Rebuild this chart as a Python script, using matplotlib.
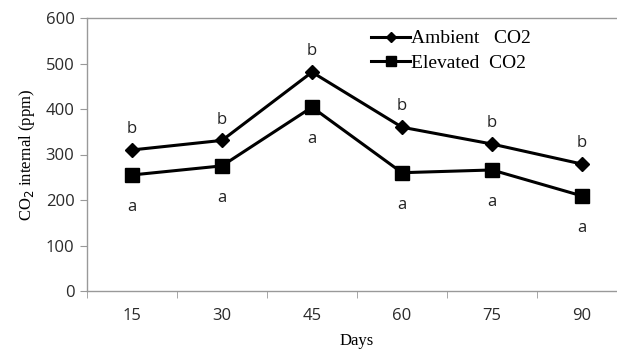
import matplotlib.pyplot as plt
import numpy as np

days = ["15", "30", "45", "60", "75", "90"]
ambient = [310, 331, 481, 360, 323, 279]
ambient_err = [6, 6, 14, 14, 6, 6]
elevated = [255, 275, 404, 260, 266, 209]
elevated_err = [6, 6, 12, 8, 6, 6]
letters_ambient = ["b", "b", "b", "b", "b", "b"]
letters_elevated = ["a", "a", "a", "a", "a", "a"]

fig = plt.figure(figsize=(6.17, 3.52), dpi=100)
ax = fig.add_axes([87 / 617, (352 - 291) / 352, 540 / 617, 273 / 352])

x = np.arange(1, len(days) + 1)
# error bars first, then the lines with markers on top
ax.errorbar(x, ambient, yerr=ambient_err, fmt="none", ecolor="black", elinewidth=1.2, capsize=0)
ax.errorbar(x, elevated, yerr=elevated_err, fmt="none", ecolor="black", elinewidth=1.2, capsize=0)
ax.plot(x, ambient, color="black", marker="D", markersize=7, linewidth=2.2, label="Ambient   CO2")
ax.plot(x, elevated, color="black", marker="s", markersize=10, linewidth=2.2, label="Elevated  CO2")

sans = "Open Sans"
for xi, yv, t in zip(x, ambient, letters_ambient):
    ax.annotate(t, (xi, yv), xytext=(0, 15), textcoords="offset points",
                ha="center", va="center", fontsize=12, family=sans, color="#222222")
for xi, yv, t in zip(x, elevated, letters_elevated):
    ax.annotate(t, (xi, yv), xytext=(0, -23), textcoords="offset points",
                ha="center", va="center", fontsize=12, family=sans, color="#222222")

ax.set_xlim(0.5, 6.5)
ax.set_ylim(0, 600)
ax.set_yticks(np.arange(0, 601, 100))
ax.set_xticks(x)
ax.set_xticklabels(days)
ax.set_xticks(np.arange(0.5, 7, 1), minor=True)
ax.tick_params(axis="x", which="major", length=0, pad=12, labelsize=12, labelcolor="#2a2a2a")
ax.tick_params(axis="x", which="minor", length=5, color="#999999", direction="out")
ax.tick_params(axis="y", length=5, color="#999999", labelsize=12, labelcolor="#2a2a2a", pad=4)
for lab in ax.get_xticklabels() + ax.get_yticklabels():
    lab.set_family(sans)

for s in ["left", "bottom", "top"]:
    ax.spines[s].set_color("#999999")
    ax.spines[s].set_linewidth(1)
ax.spines["right"].set_visible(False)

ax.set_xlabel("Days", family="Liberation Serif", fontsize=12, labelpad=7)
ax.set_ylabel("CO$_2$ internal (ppm)", family="Liberation Serif", fontsize=12, labelpad=6)

leg = ax.legend(loc="upper left", bbox_to_anchor=(0.512, 0.985), frameon=False,
                prop={"family": "Liberation Serif", "size": 14}, handlelength=2.0,
                handletextpad=0.05, labelspacing=0.35, borderaxespad=0, markerscale=0.75)

fig.savefig("out.png", dpi=100)
